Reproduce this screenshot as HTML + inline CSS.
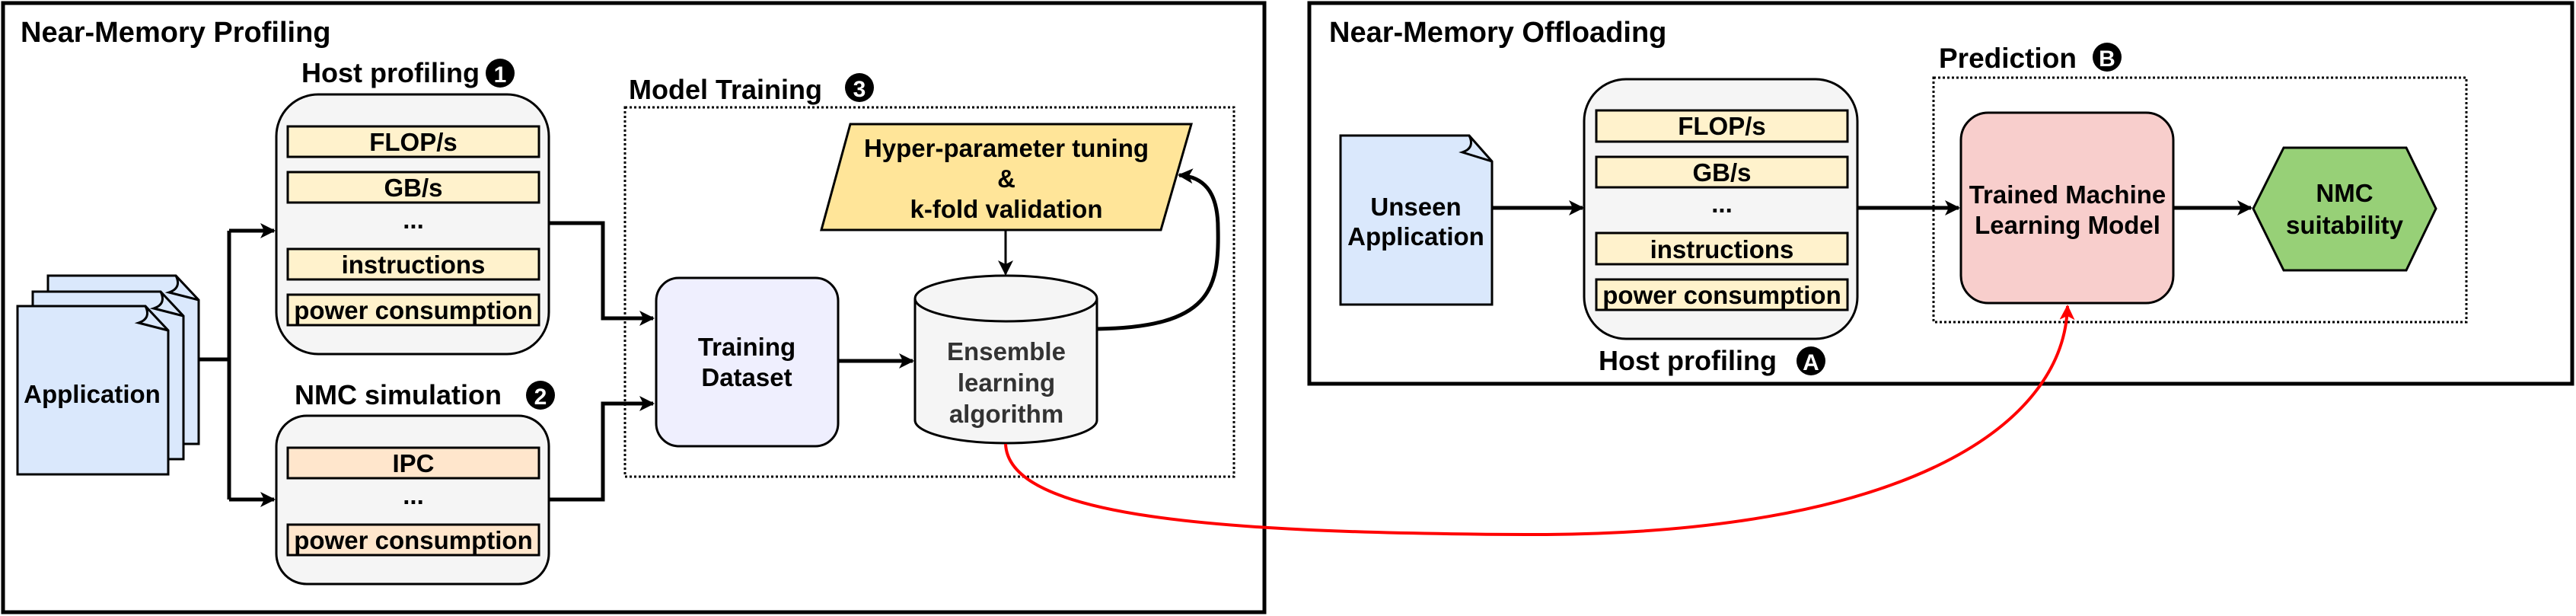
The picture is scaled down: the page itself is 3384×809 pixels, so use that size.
<!DOCTYPE html>
<html><head><meta charset="utf-8"><style>
html,body{margin:0;padding:0;background:#fff}
svg{display:block}
text{font-family:"Liberation Sans",Arial,sans-serif;font-weight:bold}
</style></head><body>
<svg width="3384" height="809" viewBox="0 0 3384 809" xmlns="http://www.w3.org/2000/svg">
<defs>
<marker id="ar" viewBox="0 0 20 20" refX="18" refY="10" markerWidth="20" markerHeight="20" markerUnits="userSpaceOnUse" orient="auto">
<path d="M0,0 L20,10 L0,20 L5,10 Z" fill="#000"/></marker>
<marker id="arR" viewBox="0 0 20 20" refX="18" refY="10" markerWidth="20" markerHeight="20" markerUnits="userSpaceOnUse" orient="auto">
<path d="M0,0 L20,10 L0,20 L5,10 Z" fill="#f00"/></marker>
</defs>
<!-- outer boxes -->
<rect x="4" y="4" width="1657" height="800" fill="none" stroke="#000" stroke-width="5"/>
<rect x="1720" y="4" width="1659" height="500" fill="none" stroke="#000" stroke-width="5"/>
<text x="27" y="55" font-size="38">Near-Memory Profiling</text>
<text x="1746" y="55" font-size="38">Near-Memory Offloading</text>

<!-- Application stack -->
<g stroke="#000" stroke-width="3" fill="#dae8fc">
<path d="M63,362 H231 L261,394 V583 H63 Z"/>
<path d="M43,383 H211 L241,415 V603 H43 Z"/>
<path d="M23,402 H191 L221,434 V623 H23 Z"/>
</g>
<g stroke="#000" stroke-width="3" fill="none">
<path d="M231,362 C236,372 234,380 222,384 L261,394"/>
<path d="M211,383 C216,393 214,401 202,405 L241,415"/>
<path d="M191,402 C196,412 194,420 182,424 L221,434"/>
</g>
<text x="121" y="529" font-size="33" text-anchor="middle">Application</text>

<!-- app connectors -->
<g stroke="#000" stroke-width="5" fill="none">
<path d="M261,472 H301"/>
<path d="M301,303 V656"/>
<path d="M301,303 H360" marker-end="url(#ar)"/>
<path d="M301,656 H360" marker-end="url(#ar)"/>
</g>

<!-- Host profiling 1 -->
<text x="396" y="108" font-size="36">Host profiling</text>
<circle cx="657" cy="96" r="19" fill="#000"/>
<text x="657" y="108" font-size="30" fill="#fff" text-anchor="middle">1</text>
<rect x="363" y="124" width="358" height="341" rx="55" fill="#f5f5f5" stroke="#000" stroke-width="3"/>
<g fill="#fff2cc" stroke="#000" stroke-width="3">
<rect x="378" y="166" width="330" height="40"/>
<rect x="378" y="226" width="330" height="40"/>
<rect x="378" y="327" width="330" height="40"/>
<rect x="378" y="387" width="330" height="40"/>
</g>
<g font-size="33" text-anchor="middle">
<text x="543" y="198">FLOP/s</text>
<text x="543" y="258">GB/s</text>
<text x="543" y="300">...</text>
<text x="543" y="359">instructions</text>
<text x="543" y="419">power consumption</text>
</g>

<!-- NMC simulation 2 -->
<text x="387" y="531" font-size="36">NMC simulation</text>
<circle cx="710" cy="519" r="19" fill="#000"/>
<text x="710" y="531" font-size="30" fill="#fff" text-anchor="middle">2</text>
<rect x="363" y="546" width="358" height="221" rx="40" fill="#f5f5f5" stroke="#000" stroke-width="3"/>
<g fill="#ffe6cc" stroke="#000" stroke-width="3">
<rect x="378" y="588" width="330" height="40"/>
<rect x="378" y="689" width="330" height="40"/>
</g>
<g font-size="33" text-anchor="middle">
<text x="543" y="620">IPC</text>
<text x="543" y="662">...</text>
<text x="543" y="721">power consumption</text>
</g>

<!-- connectors to training dataset -->
<g stroke="#000" stroke-width="5" fill="none">
<path d="M721,293 H792 V418 H858" marker-end="url(#ar)"/>
<path d="M721,656 H792 V530 H858" marker-end="url(#ar)"/>
</g>

<!-- Model training 3 -->
<text x="826" y="130" font-size="36">Model Training</text>
<circle cx="1129" cy="115" r="19" fill="#000"/>
<text x="1129" y="127" font-size="30" fill="#fff" text-anchor="middle">3</text>
<rect x="821" y="141" width="800" height="485" fill="none" stroke="#000" stroke-width="3" stroke-dasharray="3,3"/>

<rect x="862" y="365" width="239" height="221" rx="30" fill="#efeffe" stroke="#000" stroke-width="3"/>
<text x="981" y="467" font-size="33" text-anchor="middle">Training</text>
<text x="981" y="507" font-size="33" text-anchor="middle">Dataset</text>
<path d="M1101,474 H1199" stroke="#000" stroke-width="5" marker-end="url(#ar)"/>

<path d="M1202,392 A119.5,30 0 0 1 1441,392 V552 A119.5,30 0 0 1 1202,552 Z" fill="#f5f5f5" stroke="#000" stroke-width="3"/>
<path d="M1202,392 A119.5,30 0 0 0 1441,392" fill="none" stroke="#000" stroke-width="3"/>
<g font-size="33" text-anchor="middle" fill="#333">
<text x="1322" y="473">Ensemble</text>
<text x="1322" y="514">learning</text>
<text x="1322" y="555">algorithm</text>
</g>

<path d="M1117,163 H1565 L1525,302 H1079 Z" fill="#ffe599" stroke="#000" stroke-width="3"/>
<g font-size="33" text-anchor="middle">
<text x="1322" y="206">Hyper-parameter tuning</text>
<text x="1322" y="246">&amp;</text>
<text x="1322" y="286">k-fold validation</text>
</g>
<path d="M1321,302 V360" stroke="#000" stroke-width="3" marker-end="url(#ar)"/>
<path d="M1441,432 C1590,430 1602,380 1600,300 C1600,250 1580,232 1549,230" fill="none" stroke="#000" stroke-width="5" marker-end="url(#ar)"/>

<!-- Right side -->
<path d="M1761,178 H1930 L1960,212 V400 H1761 Z" fill="#dae8fc" stroke="#000" stroke-width="3"/>
<path d="M1930,178 C1935,188 1933,196 1921,200 L1960,212" fill="none" stroke="#000" stroke-width="3"/>
<text x="1860" y="283" font-size="33" text-anchor="middle">Unseen</text>
<text x="1860" y="322" font-size="33" text-anchor="middle">Application</text>
<path d="M1960,273 H2079" stroke="#000" stroke-width="5" marker-end="url(#ar)"/>

<rect x="2081" y="104" width="359" height="341" rx="55" fill="#f5f5f5" stroke="#000" stroke-width="3"/>
<g fill="#fff2cc" stroke="#000" stroke-width="3">
<rect x="2097" y="145" width="330" height="41"/>
<rect x="2097" y="206" width="330" height="40"/>
<rect x="2097" y="306" width="330" height="41"/>
<rect x="2097" y="367" width="330" height="40"/>
</g>
<g font-size="33" text-anchor="middle">
<text x="2262" y="177">FLOP/s</text>
<text x="2262" y="238">GB/s</text>
<text x="2262" y="279">...</text>
<text x="2262" y="339">instructions</text>
<text x="2262" y="399">power consumption</text>
</g>
<text x="2100" y="486" font-size="36">Host profiling</text>
<circle cx="2379" cy="474" r="19" fill="#000"/>
<text x="2379" y="486" font-size="30" fill="#fff" text-anchor="middle">A</text>
<path d="M2440,273 H2573" stroke="#000" stroke-width="5" marker-end="url(#ar)"/>

<text x="2547" y="89" font-size="37">Prediction</text>
<circle cx="2768" cy="75" r="19" fill="#000"/>
<text x="2768" y="87" font-size="30" fill="#fff" text-anchor="middle">B</text>
<rect x="2540" y="102" width="700" height="321" fill="none" stroke="#000" stroke-width="3" stroke-dasharray="3,3"/>
<rect x="2576" y="148" width="279" height="250" rx="36" fill="#f8cecc" stroke="#000" stroke-width="3"/>
<text x="2716" y="267" font-size="33" text-anchor="middle">Trained Machine</text>
<text x="2716" y="307" font-size="33" text-anchor="middle">Learning Model</text>
<path d="M2855,273 H2957" stroke="#000" stroke-width="5" marker-end="url(#ar)"/>
<path d="M3000,194 H3161 L3200,274 L3161,355 H3000 L2960,274 Z" fill="#97d077" stroke="#000" stroke-width="3"/>
<text x="3080" y="265" font-size="33" text-anchor="middle">NMC</text>
<text x="3080" y="307" font-size="33" text-anchor="middle">suitability</text>

<!-- red curve -->
<path d="M1321,583 C1325,680 1600,700 2003,702 C2500,704 2712,560 2716,402" fill="none" stroke="#f00" stroke-width="4" marker-end="url(#arR)"/>
</svg>
</body></html>
